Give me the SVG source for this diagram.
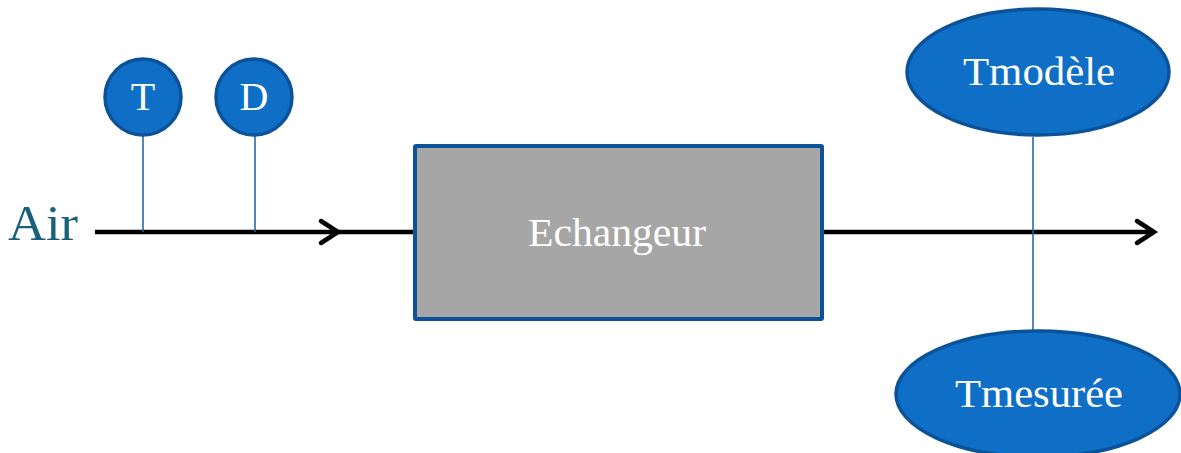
<svg xmlns="http://www.w3.org/2000/svg" width="1181" height="453" viewBox="0 0 1181 453">
<style>
.node{fill:#0f6fc6;stroke:#0c5298;stroke-width:3.5}
.lbl{font-family:"Liberation Serif","DejaVu Serif",serif;fill:#ffffff;text-anchor:middle}
.flow{stroke:#000;stroke-width:4.5;fill:none}
.tap{stroke:#1a5fa8;stroke-width:1.5;fill:none}
</style>
<defs>
<marker id="chev" markerUnits="userSpaceOnUse" markerWidth="30" markerHeight="30" viewBox="-22 -15 26 30" refX="0" refY="0" orient="auto">
<path d="M-17,-11 L0,0 L-17,11" fill="none" stroke="#000" stroke-width="4.5" stroke-linecap="round" stroke-linejoin="miter"/>
</marker>
</defs>
<g id="connectors">
<line class="flow" x1="95" y1="232" x2="338" y2="232" marker-end="url(#chev)"/>
<line class="flow" x1="338" y1="232" x2="415" y2="232"/>
<line class="flow" x1="823" y1="232" x2="1154" y2="232" marker-end="url(#chev)"/>
<line class="tap" x1="143" y1="136" x2="143" y2="232"/>
<line class="tap" x1="255" y1="136" x2="255" y2="232"/>
<line class="tap" x1="1033" y1="137" x2="1033" y2="330"/>
</g>
<g id="air">
<text x="8" y="240" font-family="Liberation Serif, DejaVu Serif, serif" font-size="50" fill="#17627a" textLength="70" lengthAdjust="spacingAndGlyphs">Air</text>
</g>
<g id="nodeT">
<circle class="node" cx="143" cy="97" r="38"/>
<text class="lbl" x="143" y="110" font-size="40">T</text>
</g>
<g id="nodeD">
<circle class="node" cx="254" cy="97" r="38"/>
<text class="lbl" x="254" y="110" font-size="40">D</text>
</g>
<g id="echangeur">
<rect x="415" y="146" width="407" height="173" fill="#a6a6a6" stroke="#0c5298" stroke-width="4" rx="1"/>
<text class="lbl" x="617" y="246" font-size="40" textLength="178" lengthAdjust="spacingAndGlyphs">Echangeur</text>
</g>
<g id="tmodele">
<ellipse class="node" cx="1038" cy="72" rx="131" ry="63"/>
<text class="lbl" x="1039" y="85" font-size="40" textLength="152" lengthAdjust="spacingAndGlyphs">Tmodèle</text>
</g>
<g id="tmesuree">
<ellipse class="node" cx="1038" cy="394" rx="142" ry="63"/>
<text class="lbl" x="1039" y="407" font-size="40" textLength="168" lengthAdjust="spacingAndGlyphs">Tmesurée</text>
</g>
</svg>
